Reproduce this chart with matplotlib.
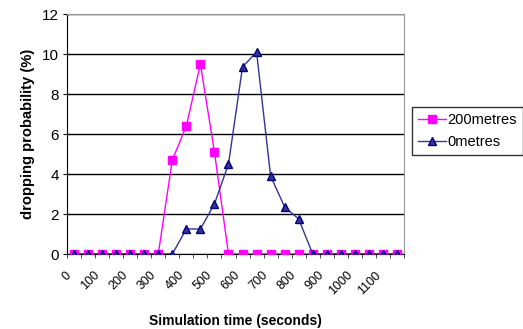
import matplotlib
matplotlib.use("Agg")
import matplotlib.pyplot as plt
import numpy as np

plt.rcParams['font.family'] = ['Liberation Sans', 'DejaVu Sans']

categories = [str(v) for v in range(0, 1200, 50)]
tick_labels = [str(v) for v in range(0, 1200, 100)]
series_200 = [0, 0, 0, 0, 0, 0, 0, 4.7, 6.4, 9.5, 5.1, 0,
              0, 0, 0, 0, 0, 0, 0, 0, 0, 0, 0, 0]
series_0 = [0, 0, 0, 0, 0, 0, 0, 0, 1.25, 1.25, 2.5, 4.5,
            9.35, 10.1, 3.9, 2.35, 1.75, 0, 0, 0, 0, 0, 0, 0]

fig = plt.figure(figsize=(5.23, 3.29), dpi=100)
W, H = 523, 329
left, right, top, bottom = 67, 404, 14, 254
ax = fig.add_axes([left / W, 1 - bottom / H, (right - left) / W, (bottom - top) / H])

x = np.arange(len(categories))
ax.plot(x, series_200, color='#FF00FF', lw=1.0, marker='s', ms=5.5,
        mec='#FF00FF', mfc='#FF00FF', label='200metres', zorder=3)
ax.plot(x, series_0, color='#333399', lw=1.0, marker='^', ms=6,
        mec='#000080', mfc='#333399', label='0metres', zorder=4)

ax.set_xlim(-0.5, len(categories) - 0.5)
ax.set_ylim(0, 12)
ax.set_yticks(np.arange(0, 13, 2))
ax.yaxis.grid(True, color='black', lw=1.0)
ax.set_axisbelow(True)

ax.set_xticks(x[::2])
ax.set_xticklabels(tick_labels, rotation=45, ha='right', va='top', fontsize=9,
                   rotation_mode='default')
ax.tick_params(axis='x', length=0, pad=11)
ax.set_xticks(np.arange(-0.5, len(categories), 1), minor=True)
ax.tick_params(axis='x', which='minor', length=3, direction='out', color='#333333')
ax.tick_params(axis='y', length=6, direction='inout', labelsize=11, pad=3)

for s in ['top', 'right']:
    ax.spines[s].set_color('#999999')
for s in ['left', 'bottom']:
    ax.spines[s].set_color('black')

ax.set_xlabel('Simulation time (seconds)', fontsize=10, fontweight='bold', labelpad=12)
ax.set_ylabel('dropping probability (%)', fontsize=10.6, fontweight='bold', labelpad=5)

leg = fig.legend(loc='upper left', bbox_to_anchor=(412 / W, 1 - 107 / H),
                 fontsize=10.5, frameon=True, fancybox=False, edgecolor='black',
                 handlelength=1.9, borderpad=0.4, labelspacing=0.55,
                 handletextpad=0.15, borderaxespad=0)
leg.get_frame().set_linewidth(1.0)

fig.savefig('out.png', dpi=100, facecolor='white')
